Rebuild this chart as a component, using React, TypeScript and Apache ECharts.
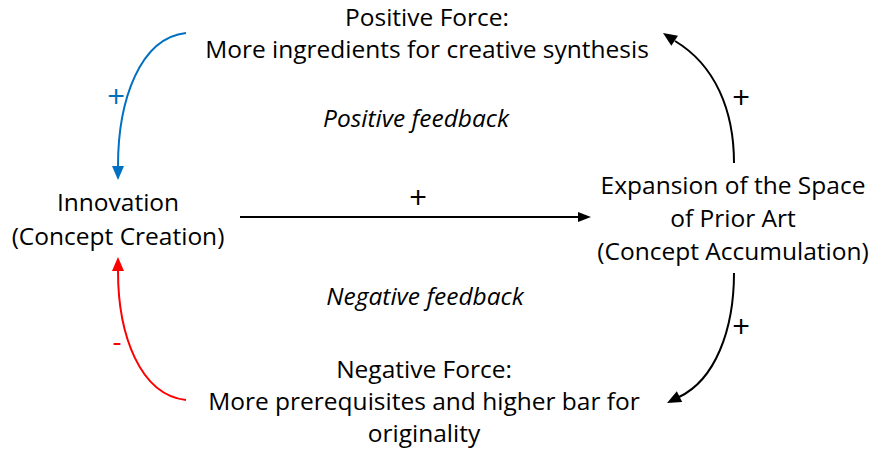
import React, { useEffect, useRef } from "react";
import * as echarts from "echarts";

const topLabel = ["Positive Force:", "More ingredients for creative synthesis"];
const leftLabel = ["Innovation", "(Concept Creation)"];
const rightLabel = ["Expansion of the Space", "of Prior Art", "(Concept Accumulation)"];
const bottomLabel = ["Negative Force:", "More prerequisites and higher bar for", "originality"];
const feedbackLabels = ["Positive feedback", "Negative feedback"];
const signs = ["+", "+", "+", "+", "-"];

const FONT = "'Open Sans', sans-serif";
const BLUE = "#0070C0";
const RED = "#FF0000";
const BLACK = "#000000";

type Pt = [number, number];

function head(tip: Pt, from: Pt, len: number, half: number, color: string) {
  const dx = tip[0] - from[0];
  const dy = tip[1] - from[1];
  const d = Math.hypot(dx, dy) || 1;
  const ux = dx / d, uy = dy / d;
  const bx = tip[0] - ux * len, by = tip[1] - uy * len;
  return {
    type: "polygon",
    shape: { points: [tip, [bx - uy * half, by + ux * half], [bx + uy * half, by - ux * half]] },
    style: { fill: color },
    silent: true,
  };
}

function curveArrow(p: Pt[], tip: Pt, color: string) {
  return [
    {
      type: "bezierCurve",
      shape: { x1: p[0][0], y1: p[0][1], cpx1: p[1][0], cpy1: p[1][1], cpx2: p[2][0], cpy2: p[2][1], x2: p[3][0], y2: p[3][1] },
      style: { stroke: color, lineWidth: 2, fill: "none" },
      silent: true,
    },
    head(tip, p[3], 14, 6, color),
  ];
}

function txt(s: string, x: number, y: number, opts: any = {}) {
  return {
    type: "text",
    x, y,
    style: {
      text: s,
      fontFamily: FONT,
      fontSize: opts.size || 24.5,
      fill: opts.fill || "#000",
      fontStyle: opts.italic ? "italic" : "normal",
      align: "center",
      verticalAlign: "middle",
    },
    silent: true,
  };
}

export default function App() {
  const ref = useRef<HTMLDivElement>(null);
  useEffect(() => {
    if (!ref.current) return;
    const chart = echarts.init(ref.current, null, { renderer: "svg" });
    const g: any[] = [];
    g.push(txt(topLabel[0], 427, 16));
    g.push(txt(topLabel[1], 427, 48));
    g.push(txt(leftLabel[0], 118, 201));
    g.push(txt(leftLabel[1], 118, 235));
    rightLabel.forEach((s, i) => g.push(txt(s, 733, 184 + i * 33)));
    bottomLabel.forEach((s, i) => g.push(txt(s, 424, 368 + i * 32)));
    g.push(txt(feedbackLabels[0], 416, 117, { italic: true }));
    g.push(txt(feedbackLabels[1], 425, 295, { italic: true }));

    g.push(txt(signs[0], 418, 197, { size: 31 }));
    g.push(txt(signs[1], 741, 97, { size: 31 }));
    g.push(txt(signs[2], 741, 326, { size: 31 }));
    g.push(txt(signs[3], 116, 96, { fill: BLUE, size: 31 }));
    g.push(txt(signs[4], 117, 340, { fill: RED, size: 28 }));

    // horizontal arrow
    g.push({ type: "line", shape: { x1: 240, y1: 217, x2: 579, y2: 217 }, style: { stroke: BLACK, lineWidth: 2 }, silent: true });
    g.push(head([591, 217], [579, 217], 13, 5, BLACK));

    g.push(...curveArrow([[186, 33], [140, 38], [118, 100], [118, 166]], [118, 180], BLUE));
    g.push(...curveArrow([[186, 400], [140, 395], [118, 335], [118, 271]], [118, 257], RED));
    g.push(...curveArrow([[734, 163], [734, 110], [715, 65], [675, 41]], [663, 33], BLACK));
    g.push(...curveArrow([[734, 273], [734, 330], [715, 380], [679, 397]], [667, 403], BLACK));

    chart.setOption({ animation: false, graphic: { elements: g } });
    return () => chart.dispose();
  }, []);
  return (
    <div
      ref={ref}
      style={{ position: "absolute", left: 0, top: 0, width: 871, height: 450, background: "#fff" }}
    />
  );
}
